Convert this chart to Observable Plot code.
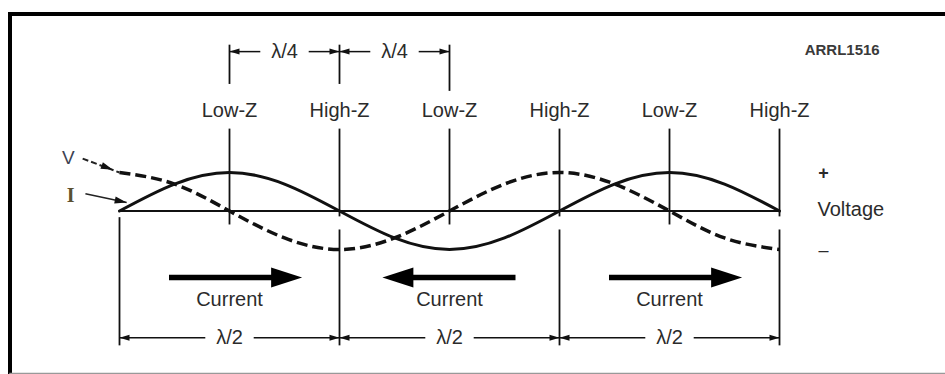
<!DOCTYPE html>
<html><head><meta charset="utf-8">
<script src="https://cdn.jsdelivr.net/npm/d3@7"></script>
<script src="https://cdn.jsdelivr.net/npm/@observablehq/plot@0.6"></script>
<style>body{margin:0;background:#fff} svg{display:block}</style>
</head><body><div id="chart"></div>
<script>
// ---- data (positions along the line in quarter wavelengths) ----
const wavePos      = [0, 0.5, 1, 1.5, 2, 2.5, 3, 3.5, 4, 4.5, 5, 5.5, 6];
const currentWave  = [0, 0.7, 1, 0.7, 0, -0.7, -1, -0.7, 0, 0.7, 1, 0.7, 0];      // I (solid)
const voltageWave  = [1, 0.7, 0, -0.7, -1, -0.7, 0, 0.7, 1, 0.7, 0, -0.7, -1];    // V (dashed)
const nodes        = [1, 2, 3, 4, 5, 6];
const zLabels      = ["Low-Z", "High-Z", "Low-Z", "High-Z", "Low-Z", "High-Z"];
const quarterSpans = [[1, 2], [2, 3]];
const quarterLabels = ["λ/4", "λ/4"];
const halfSpans    = [[0, 2], [2, 4], [4, 6]];
const halfLabels   = ["λ/2", "λ/2", "λ/2"];
const currentDir   = [1, -1, 1];
const currentLabels = ["Current", "Current", "Current"];
const figureId     = "ARRL1516";

// ---- layout (scale units: x = quarter wavelengths, y = wave amplitude) ----
const KX = 110, KY = 38.5;
const ROW = {
  qDim: 4.14, tickTop: 4.32, tickBot: [3.3, 3.3, 3.12],
  zLabel: 2.61, zTop: 2.14, lowBot: -0.35, highUpBot: -0.14, highLowTop: -0.48,
  startTop: -0.16, bottom: -3.49, arrow: -1.73, curText: -2.30, hDim: -3.29
};
const FONT = "Liberation Sans, Arial, Helvetica, sans-serif";
const TXT = "#2b2b2b";

// vertical rules
const segs = [];
segs.push({x: 0, y1: ROW.startTop, y2: ROW.bottom});
nodes.forEach(n => {
  if (n % 2 === 1) segs.push({x: n, y1: ROW.zTop, y2: ROW.lowBot});
  else {
    segs.push({x: n, y1: ROW.zTop, y2: ROW.highUpBot});
    segs.push({x: n, y1: ROW.highLowTop, y2: ROW.bottom});
  }
});
[1, 2, 3].forEach((n, i) => segs.push({x: n, y1: ROW.tickTop, y2: ROW.tickBot[i]}));

// dimension lines
const dimLines = [], dimHeads = [], dimTexts = [];
quarterSpans.forEach(([a, b], i) => {
  dimLines.push({x1: a, x2: a + 0.28, y: ROW.qDim}, {x1: b - 0.28, x2: b, y: ROW.qDim});
  dimHeads.push({x: a, y: ROW.qDim, r: -90}, {x: b, y: ROW.qDim, r: 90});
  dimTexts.push({x: (a + b) / 2, y: ROW.qDim, t: quarterLabels[i]});
});
halfSpans.forEach(([a, b], i) => {
  dimLines.push({x1: a, x2: a + 0.78, y: ROW.hDim}, {x1: b - 0.78, x2: b, y: ROW.hDim});
  dimHeads.push({x: a, y: ROW.hDim, r: -90}, {x: b, y: ROW.hDim, r: 90});
  dimTexts.push({x: (a + b) / 2, y: ROW.hDim, t: halfLabels[i]});
});

// current arrows
const shafts = [], bigHeads = [], curTexts = [];
halfSpans.forEach(([a], i) => {
  const d = currentDir[i];
  const tail = d > 0 ? a + 0.45 : a + 1.6;
  const tip  = d > 0 ? a + 1.66 : a + 0.39;
  shafts.push({x1: tail, x2: tip - d * 0.2, y: ROW.arrow});
  bigHeads.push({x: tip, y: ROW.arrow, r: d > 0 ? 90 : -90});
  curTexts.push({x: a + 1.0, y: ROW.curText, t: currentLabels[i]});
});

// V / I pointers
const rot = (dx, dy) => Math.atan2(dx * KX, dy * KY) * 180 / Math.PI;
const vPtr = {x1: -0.335, y1: 1.36, x2: 0.0, y2: 1.0};
const iPtr = {x1: -0.31, y1: 0.45, x2: 0.065, y2: 0.22};
const ptrHeads = [
  {x: -0.06, y: 1.07, r: rot(vPtr.x2 - vPtr.x1, vPtr.y2 - vPtr.y1)},
  {x: iPtr.x2, y: iPtr.y2, r: rot(iPtr.x2 - iPtr.x1, iPtr.y2 - iPtr.y1)}
];

const plot = Plot.plot({
  width: 945, height: 374,
  marginLeft: 9.5, marginTop: 13.5, marginBottom: 1, marginRight: 0,
  x: {domain: [0, 6], range: [119, 779], axis: null},
  y: {domain: [-1, 1], range: [249, 172], axis: null},
  style: {fontFamily: FONT, background: "white", overflow: "visible"},
  marks: [
    Plot.frame({anchor: "top", stroke: "black", strokeWidth: 4}),
    Plot.frame({anchor: "left", stroke: "black", strokeWidth: 4}),
    Plot.frame({anchor: "bottom", stroke: "#999", strokeWidth: 1.5}),
    // baseline
    Plot.link([{x1: 0, x2: 6, y: 0}], {x1: "x1", x2: "x2", y1: "y", y2: "y", stroke: "#111", strokeWidth: 2}),
    Plot.link(segs, {x1: "x", x2: "x", y1: "y1", y2: "y2", stroke: "#111", strokeWidth: 1.8}),
    Plot.link(dimLines, {x1: "x1", x2: "x2", y1: "y", y2: "y", stroke: "#111", strokeWidth: 1.5}),
    Plot.vector(dimHeads, {x: "x", y: "y", rotate: "r", length: 10, r: 3, shape: "spike", anchor: "end", fill: "#111", stroke: "none"}),
    Plot.text(dimTexts, {x: "x", y: "y", text: "t", fontSize: 20, fill: TXT}),
    // waves
    Plot.line(wavePos.map((x, i) => ({x, y: voltageWave[i]})), {x: "x", y: "y", curve: "natural", stroke: "#111", strokeWidth: 3.5, strokeDasharray: "11,5", strokeLinecap: "butt"}),
    Plot.line(wavePos.map((x, i) => ({x, y: currentWave[i]})), {x: "x", y: "y", curve: "natural", stroke: "#111", strokeWidth: 3}),
    // current arrows
    Plot.link(shafts, {x1: "x1", x2: "x2", y1: "y", y2: "y", stroke: "#000", strokeWidth: 5.5}),
    Plot.vector(bigHeads, {x: "x", y: "y", rotate: "r", length: 31, r: 10, shape: "spike", anchor: "end", fill: "#000", stroke: "none"}),
    Plot.text(curTexts, {x: "x", y: "y", text: "t", fontSize: 20, fill: TXT}),
    // Z labels
    Plot.text(nodes, {x: d => d, y: () => ROW.zLabel, text: (d, i) => zLabels[i], fontSize: 20, fill: TXT}),
    // V / I pointers
    Plot.link([vPtr], {x1: "x1", y1: "y1", x2: "x2", y2: "y2", stroke: "#222", strokeWidth: 2, strokeDasharray: "6,3"}),
    Plot.link([iPtr], {x1: "x1", y1: "y1", x2: "x2", y2: "y2", stroke: "#222", strokeWidth: 1.5}),
    Plot.vector(ptrHeads, {x: "x", y: "y", rotate: "r", length: 12, r: 3.5, shape: "spike", anchor: "end", fill: "#111", stroke: "none"}),
    Plot.text(["V"], {x: () => -0.464, y: () => 1.39, text: d => d, fontSize: 19, fill: "#3d4252"}),
    Plot.text(["I"], {x: () => -0.445, y: () => 0.40, text: d => d, fontSize: 20, fontFamily: "Liberation Serif, Times New Roman, serif", fontWeight: "bold", fill: "#5a5030"}),
    // voltage legend
    Plot.text(["+"], {x: () => 6.4, y: () => 0.97, text: d => d, fontSize: 18, fontWeight: "bold", fill: TXT}),
    Plot.text(["Voltage"], {x: () => 6.345, y: () => 0.04, text: d => d, fontSize: 20, textAnchor: "start", fill: TXT}),
    Plot.text(["–"], {x: () => 6.4, y: () => -1.03, text: d => d, fontSize: 18, fill: TXT}),
    // figure id
    Plot.text([figureId], {x: () => 6.57, y: () => 4.17, text: d => d, fontSize: 15, fontWeight: "bold", fill: "#3a3a3a"})
  ]
});
document.getElementById("chart").append(plot);
</script>
</body></html>
